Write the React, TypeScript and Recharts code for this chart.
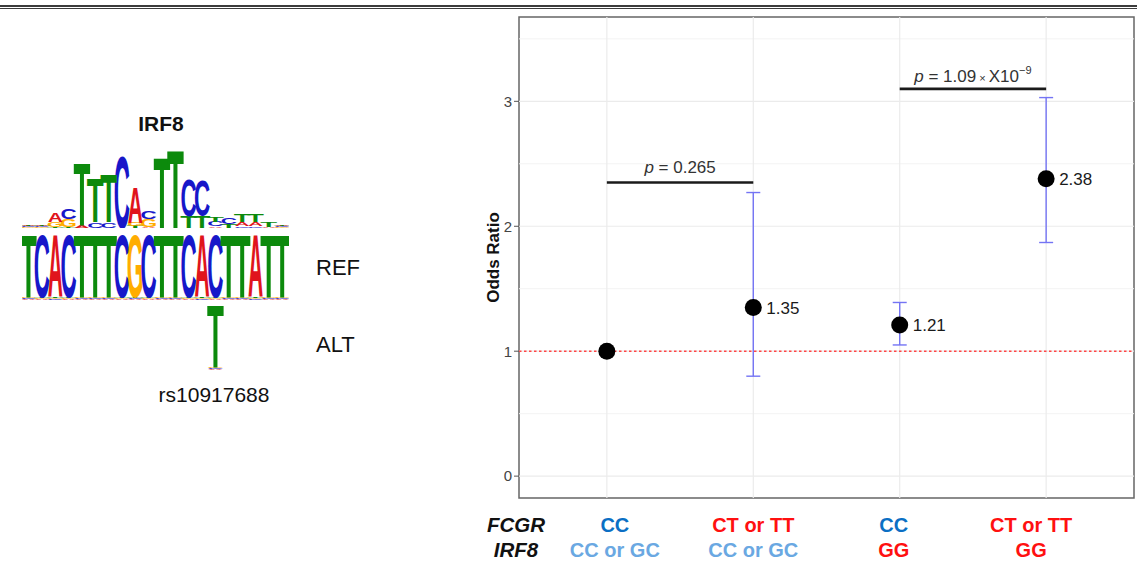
import { Bar, BarChart, ComposedChart, ErrorBar, ReferenceArea, ReferenceLine, Scatter, XAxis, YAxis } from "recharts";

const FONT = "'Liberation Sans', Arial, Helvetica, sans-serif";

// sequence logo (left panel)
const MOTIF_NAME = "IRF8";
const SNP_ID = "rs10917688";
const REF_SEQUENCE = "TCACTTTCGCTTCACTTATT".split("");
const SNP_INDEX = 14;
const ALT_ALLELE = "T";
const ALLELE_BITS = 2.0;
const TRACE_BITS = 0.035;
// motif columns, letters stacked bottom -> top with their heights (bits)
const MOTIF: [string, number][][] = [
  [["G", 0.02], ["C", 0.02], ["T", 0.02], ["A", 0.03]],
  [["G", 0.02], ["C", 0.02], ["T", 0.02], ["A", 0.03]],
  [["T", 0.03], ["G", 0.12], ["A", 0.23]],
  [["T", 0.03], ["G", 0.2], ["C", 0.25]],
  [["A", 0.07], ["T", 1.6]],
  [["C", 0.14], ["T", 1.13]],
  [["C", 0.14], ["T", 1.22]],
  [["C", 1.83]],
  [["T", 0.05], ["G", 0.08], ["A", 0.9]],
  [["A", 0.03], ["G", 0.2], ["C", 0.21]],
  [["T", 1.78]],
  [["T", 2.0]],
  [["T", 0.3], ["C", 0.93]],
  [["T", 0.3], ["C", 0.9]],
  [["A", 0.04], ["C", 0.12], ["T", 0.14]],
  [["T", 0.1], ["C", 0.15]],
  [["C", 0.04], ["A", 0.1], ["T", 0.2]],
  [["C", 0.04], ["A", 0.1], ["T", 0.2]],
  [["A", 0.03], ["T", 0.12]],
  [["G", 0.02], ["C", 0.02], ["T", 0.02], ["A", 0.03]],
];

// odds ratio plot (right panel)
const GROUP_X = [1, 2, 3, 4];
const FCGR_GENOTYPE = ["CC", "CT or TT", "CC", "CT or TT"];
const IRF8_GENOTYPE = ["CC or GC", "CC or GC", "GG", "GG"];
const ODDS_RATIO = [1.0, 1.35, 1.21, 2.38];
const CI_LOWER = [null, 0.8, 1.05, 1.87];
const CI_UPPER = [null, 2.27, 1.39, 3.03];
const OR_TEXT = ["", "1.35", "1.21", "2.38"];
const Y_TICKS = [0, 1, 2, 3];
const Y_MINOR = [0.5, 1.5, 2.5, 3.5];
const BRACKET_FROM = [1, 3];
const BRACKET_TO = [2, 4];
const BRACKET_Y = [2.35, 3.1];
const BRACKET_P = ["0.265", "1.09"];
const BRACKET_EXP = [null, "\u22129"];

const NUC_COLOR: Record<string, string> = { A: "#e0141c", C: "#1717c9", G: "#ffad00", T: "#0c8a0c" };
const INK_WIDTH: Record<string, number> = { A: 0.62, C: 0.58, G: 0.6, T: 0.47 };
const GENO_COLOR: Record<string, string> = {
  CC: "#0b6fc4",
  "CT or TT": "#ff1010",
  "CC or GC": "#6aa8e2",
  GG: "#ff1010",
};
const LABEL_NUDGE = [8, 0, -6, -15];
const BRACKET_GAP = [10, 6.5];

const NUCS = ["A", "C", "G", "T"];

const refColumns: [string, number][][] = REF_SEQUENCE.map((b) => [
  ...NUCS.filter((n) => n !== b).map((n) => [n, TRACE_BITS] as [string, number]),
  [b, ALLELE_BITS],
]);
const altColumns: [string, number][][] = REF_SEQUENCE.map((_, i) =>
  i === SNP_INDEX
    ? [...NUCS.filter((n) => n !== ALT_ALLELE).map((n) => [n, TRACE_BITS] as [string, number]), [ALT_ALLELE, ALLELE_BITS]]
    : []
);

function toRows(cols: [string, number][][]) {
  return cols.map((col, i) => {
    const row: any = { pos: i + 1 };
    for (let k = 0; k < 4; k++) {
      row[`l${k}`] = col[k] ? col[k][0] : "";
      row[`h${k}`] = col[k] ? col[k][1] : 0;
    }
    return row;
  });
}

function Glyph(props: any) {
  const { x, y, width, height, letter } = props;
  if (!letter || !(height > 0)) return null;
  const fs = 100;
  const sx = width / (INK_WIDTH[letter] * fs);
  const sy = height / (0.716 * fs);
  return (
    <text
      transform={`translate(${x + width / 2},${y + height}) scale(${sx},${sy})`}
      textAnchor="middle"
      fontFamily={FONT}
      fontWeight={700}
      fontSize={fs}
      fill={NUC_COLOR[letter]}
    >
      {letter}
    </text>
  );
}

function LogoRow({ cols, top, height, maxBits }: { cols: [string, number][][]; top: number; height: number; maxBits: number }) {
  const rows = toRows(cols);
  return (
    <div style={{ position: "absolute", left: 22, top }}>
      <BarChart width={267} height={height} data={rows} margin={{ top: 0, right: 0, bottom: 0, left: 0 }} barCategoryGap={0} barGap={0}>
        <XAxis dataKey="pos" hide />
        <YAxis hide domain={[0, maxBits]} allowDataOverflow />
        {[0, 1, 2, 3].map((k) => (
          <Bar
            key={k}
            dataKey={`h${k}`}
            stackId="s"
            isAnimationActive={false}
            shape={(p: any) => <Glyph {...p} letter={p.payload ? p.payload[`l${k}`] : ""} />}
          />
        ))}
      </BarChart>
    </div>
  );
}

const pointRows = GROUP_X.map((x, i) => ({ x, y: ODDS_RATIO[i], text: OR_TEXT[i] }));
const ciRows = GROUP_X.map((x, i) => ({
  x,
  y: ODDS_RATIO[i],
  err: CI_LOWER[i] == null ? null : [ODDS_RATIO[i] - (CI_LOWER[i] as number), (CI_UPPER[i] as number) - ODDS_RATIO[i]],
})).filter((r) => r.err != null);

function GenotypeTick(props: any) {
  const { x, y, payload } = props;
  const i = GROUP_X.indexOf(payload.value);
  if (i < 0) return null;
  const cx = x + LABEL_NUDGE[i];
  return (
    <g fontFamily={FONT} fontWeight={700} fontSize={20} textAnchor="middle">
      <text x={cx} y={y + 34} fill={GENO_COLOR[FCGR_GENOTYPE[i]]}>{FCGR_GENOTYPE[i]}</text>
      <text x={cx} y={y + 59} fill={GENO_COLOR[IRF8_GENOTYPE[i]]}>{IRF8_GENOTYPE[i]}</text>
    </g>
  );
}

function RowHeaders(props: any) {
  const { x, y } = props.viewBox;
  return (
    <g fontFamily={FONT} fontWeight={700} fontStyle="italic" fontSize={20.5} textAnchor="middle" fill="#111">
      <text x={x - 3} y={y + 34}>FCGR</text>
      <text x={x - 3} y={y + 59}>IRF8</text>
    </g>
  );
}

function YTitle(props: any) {
  const { x, y, width, height } = props.viewBox;
  const cx = x + width - 26;
  const cy = y + height / 2;
  return (
    <text x={cx} y={cy} transform={`rotate(-90 ${cx} ${cy})`} textAnchor="middle" dy="0.35em" fontFamily={FONT} fontWeight={700} fontSize={17} fill="#111">
      Odds Ratio
    </text>
  );
}

function BracketLabel(props: any, i: number) {
  const { x, y, width } = props.viewBox;
  const exp = BRACKET_EXP[i];
  return (
    <text x={x + width / 2} y={y - BRACKET_GAP[i]} textAnchor="middle" fontFamily={FONT} fontSize={17} fill="#333">
      <tspan fontStyle="italic">p</tspan>
      <tspan>{` = ${BRACKET_P[i]}`}</tspan>
      {exp && (
        <>
          <tspan fontSize={11}>{" \u00d7 "}</tspan>
          <tspan>X10</tspan>
          <tspan fontSize={11} dy={-8}>{exp}</tspan>
        </>
      )}
    </text>
  );
}

function PointShape(props: any) {
  const { cx, cy, payload } = props;
  return (
    <g>
      <circle cx={cx} cy={cy} r={8.5} fill="#000" />
      {payload.text && (
        <text x={cx + 13} y={cy} dy="0.36em" fontFamily={FONT} fontSize={17} fill="#1a1a1a">
          {payload.text}
        </text>
      )}
    </g>
  );
}

function OddsChart() {
  return (
    <div style={{ position: "absolute", left: 440, top: 0 }}>
      <ComposedChart width={697} height={565} margin={{ top: 17, right: 3, bottom: 0, left: 0 }}>
        <XAxis
          dataKey="x"
          type="number"
          domain={[0.4, 4.6]}
          ticks={GROUP_X}
          allowDataOverflow
          axisLine={false}
          tickLine={false}
          tickSize={0}
          tickMargin={0}
          height={67}
          tick={(p: any) => <GenotypeTick {...p} />}
          label={{ content: (p: any) => <RowHeaders {...p} /> }}
        />
        <YAxis
          dataKey="y"
          type="number"
          domain={[-0.175, 3.675]}
          ticks={Y_TICKS}
          allowDataOverflow
          width={79}
          axisLine={false}
          tickSize={5}
          tickMargin={2}
          tickLine={{ stroke: "#555" }}
          tick={{ fill: "#444", fontSize: 15, fontFamily: FONT }}
          label={{ content: (p: any) => <YTitle {...p} /> }}
        />
        {Y_MINOR.map((v) => (
          <ReferenceLine key={`mi${v}`} y={v} stroke="#f3f3f3" strokeWidth={1} ifOverflow="visible" />
        ))}
        {Y_TICKS.map((v) => (
          <ReferenceLine key={`ma${v}`} y={v} stroke="#ebebeb" strokeWidth={1.2} ifOverflow="visible" />
        ))}
        {GROUP_X.map((v) => (
          <ReferenceLine key={`vx${v}`} x={v} stroke="#ebebeb" strokeWidth={1.2} ifOverflow="visible" />
        ))}
        <ReferenceArea x1={0.4} x2={4.6} y1={-0.175} y2={3.675} fill="none" stroke="#666" strokeWidth={1.5} ifOverflow="visible" />
        <ReferenceLine y={1} stroke="#ff4646" strokeWidth={1.6} strokeDasharray="2.5 2.5" ifOverflow="visible" />
        {BRACKET_FROM.map((from, i) => (
          <ReferenceLine
            key={`br${i}`}
            segment={[
              { x: from, y: BRACKET_Y[i] },
              { x: BRACKET_TO[i], y: BRACKET_Y[i] },
            ]}
            stroke="#1a1a1a"
            strokeWidth={2.6}
            ifOverflow="visible"
            label={{ content: (p: any) => BracketLabel(p, i) }}
          />
        ))}
        <Scatter data={ciRows} dataKey="y" isAnimationActive={false} shape={() => <g />}>
          <ErrorBar dataKey="err" direction="y" width={7} stroke="#7474f4" strokeWidth={1.4} isAnimationActive={false} />
        </Scatter>
        <Scatter data={pointRows} dataKey="y" isAnimationActive={false} shape={(p: any) => <PointShape {...p} />} />
      </ComposedChart>
    </div>
  );
}

export default function App() {
  return (
    <div style={{ position: "absolute", left: 0, top: 0, width: 1137, height: 565, background: "#fff", overflow: "hidden", fontFamily: FONT }}>
      <div style={{ position: "absolute", left: 0, top: 5, width: 1137, height: 1, borderTop: "2px solid #3c3c3c", borderBottom: "1px solid #3c3c3c" }} />
      <svg width={1137} height={565} style={{ position: "absolute", left: 0, top: 0 }}>
        <text x={161} y={131} textAnchor="middle" fontFamily={FONT} fontWeight={700} fontSize={21} fill="#111">{MOTIF_NAME}</text>
        <text x={316} y={275} fontFamily={FONT} fontSize={22} fill="#111">REF</text>
        <text x={316} y={352} fontFamily={FONT} fontSize={22} fill="#111">ALT</text>
        <text x={214} y={402} textAnchor="middle" fontFamily={FONT} fontSize={21} fill="#111">{SNP_ID}</text>
      </svg>
      <LogoRow cols={MOTIF} top={140} height={88} maxBits={2.2} />
      <LogoRow cols={refColumns} top={230} height={70} maxBits={2.2} />
      <LogoRow cols={altColumns} top={300} height={70} maxBits={2.2} />
      <OddsChart />
    </div>
  );
}
